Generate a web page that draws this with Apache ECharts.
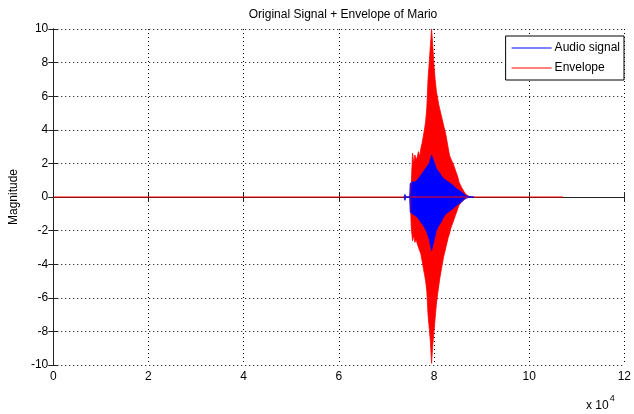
<!DOCTYPE html>
<html>
<head>
<meta charset="utf-8">
<script src="https://cdn.jsdelivr.net/npm/echarts@6/dist/echarts.min.js"></script>
<style>html,body{margin:0;padding:0;background:#fff}#c{width:634px;height:414px}</style>
</head>
<body>
<div id="c"></div>
<script>
// ---- data (sample index on x, magnitude on y) ----
const titleText = 'Original Signal + Envelope of Mario';
const yName = 'Magnitude';
const xTicks = [0, 20000, 40000, 60000, 80000, 100000, 120000];
const yTicks = [-10, -8, -6, -4, -2, 0, 2, 4, 6, 8, 10];
const legendNames = ['Audio signal', 'Envelope'];

// flat part of the traces (start / end sample)
const baseX = [0, 107100];
const baseY = [0, 0];

// envelope burst
const envX = [75000, 75250, 75500, 75750, 76000, 76250, 76500, 76750, 77000, 77250,
              77500, 77750, 78000, 78250, 78500, 78750, 79000, 79250, 79500, 79750,
              80000, 80250, 80500, 80750, 81000, 81250, 81500, 81750, 82000, 82250,
              82500, 82750, 83000, 83250, 83500, 83750, 84000, 84250, 84500, 84750,
              85000, 85250, 85500, 85750, 86000, 86250, 86500, 86750, 87000, 87250, 87500];
const envUpper = [0.1, 0.9, 2.6, 2.0, 2.5, 2.2, 2.4, 2.7, 2.4, 2.9,
                  3.2, 3.6, 4.0, 4.5, 5.3, 7.0, 8.0, 9.0, 10.0, 9.0,
                  7.8, 7.0, 6.3, 5.9, 5.5, 5.2, 4.9, 4.6, 4.3, 4.0,
                  3.7, 3.3, 2.9, 2.5, 2.3, 2.2, 2.0, 1.8, 1.6, 1.4,
                  1.2, 0.9, 0.8, 0.6, 0.5, 0.35, 0.25, 0.15, 0.1, 0.05, 0.0];
const envLower = [-0.1, -1.9, -2.6, -2.3, -2.7, -2.5, -2.8, -3.0, -2.9, -3.4,
                  -3.8, -4.2, -4.6, -5.0, -5.6, -7.0, -7.8, -8.6, -9.9, -8.8,
                  -8.0, -7.2, -6.4, -5.8, -5.3, -4.8, -4.4, -4.0, -3.6, -3.3,
                  -3.0, -2.7, -2.4, -2.2, -1.9, -1.7, -1.5, -1.3, -1.1, -0.9,
                  -0.7, -0.5, -0.4, -0.3, -0.2, -0.15, -0.1, -0.05, -0.03, 0.0, 0.0];

// audio signal burst
const sigX = [73700, 73900, 74100, 74900, 75000, 75500, 76000, 76500, 77000, 77500,
              78000, 78500, 79000, 79500, 80000, 80500, 81000, 81500, 82000, 82500,
              83000, 83500, 84000, 84500, 85000, 85500, 86000, 86500, 87000, 88000, 88200, 88400];
const sigUpper = [0.0, 0.15, 0.0, 0.0, 0.8, 0.9, 0.9, 1.0, 1.2, 1.4,
                  1.6, 1.8, 2.0, 2.5, 2.1, 1.7, 1.5, 1.3, 1.1, 1.0,
                  0.9, 0.8, 0.7, 0.55, 0.45, 0.35, 0.25, 0.12, 0.05, 0.0, 0.08, 0.0];
const sigLower = [0.0, -0.2, 0.0, 0.0, -0.9, -1.0, -1.1, -1.2, -1.4, -1.6,
                  -1.8, -2.1, -2.5, -3.2, -2.6, -2.0, -1.7, -1.5, -1.2, -1.0,
                  -0.9, -0.8, -0.7, -0.55, -0.45, -0.35, -0.25, -0.12, -0.05, 0.0, -0.08, 0.0];

const BLUE = '#0000ff', RED = '#ff0000';
const zip = (xs, ys) => xs.map((x, i) => [x, ys[i]]);

function areaSeries(name, color, xs, ys) {
  return {
    name, type: 'line', data: zip(xs, ys), showSymbol: false, symbol: 'none',
    lineStyle: { color, width: 0.8 }, itemStyle: { color },
    areaStyle: { color, opacity: 1 }, animation: false, silent: true
  };
}
function lineSeries(name, color, xs, ys) {
  return {
    name, type: 'line', data: zip(xs, ys), showSymbol: false, symbol: 'none',
    lineStyle: { color, width: 1 }, itemStyle: { color }, animation: false, silent: true
  };
}

const font = 'Liberation Sans, Arial, sans-serif';
const axisCommon = {
  axisLine: { show: true, lineStyle: { color: '#222', width: 1 } },
  axisTick: { show: true, inside: true, length: 5, lineStyle: { color: '#222' } },
  splitLine: { show: false }
};

const chart = echarts.init(document.getElementById('c'), null, { renderer: 'canvas' });
chart.setOption({
  backgroundColor: '#ffffff',
  animation: false,
  title: {
    text: titleText, left: 338, textAlign: 'center', top: 4,
    textStyle: { fontFamily: font, fontSize: 12, fontWeight: 'normal', color: '#000' }
  },
  legend: {
    data: legendNames.map(n => ({ name: n, icon: 'rect' })),
    orient: 'vertical', right: 10, top: 36,
    backgroundColor: '#fff', borderColor: '#000', borderWidth: 1,
    padding: [6, 4, 6, 6], itemGap: 8, itemWidth: 40, itemHeight: 1,
    textStyle: { fontFamily: font, fontSize: 12, color: '#000', padding: [0, 0, 0, -2] }
  },
  grid: { left: 49, right: 7, top: 29, bottom: 49, show: false },
  xAxis: [
    Object.assign({
      type: 'value', min: xTicks[0], max: xTicks[xTicks.length - 1], interval: xTicks[1] - xTicks[0],
      axisLabel: { color: '#000', fontFamily: font, fontSize: 12, margin: 6, formatter: v => String(v / 10000) },
      splitLine: { show: true, lineStyle: { color: '#000', type: [1, 3], width: 1 } }
    }, { axisLine: axisCommon.axisLine, axisTick: axisCommon.axisTick }),
    Object.assign({
      type: 'value', position: 'top', min: xTicks[0], max: xTicks[xTicks.length - 1], interval: xTicks[1] - xTicks[0],
      axisLabel: { show: false }
    }, axisCommon)
  ],
  yAxis: [
    Object.assign({
      type: 'value', min: yTicks[0], max: yTicks[yTicks.length - 1], interval: yTicks[1] - yTicks[0],
      name: yName, nameLocation: 'middle', nameGap: 28, nameRotate: 90,
      nameTextStyle: { color: '#000', fontFamily: font, fontSize: 12 },
      axisLabel: { color: '#000', fontFamily: font, fontSize: 12, margin: 5 },
      splitLine: { show: true, lineStyle: { color: '#000', type: [1, 3], width: 1 } }
    }, { axisLine: axisCommon.axisLine, axisTick: axisCommon.axisTick }),
    Object.assign({
      type: 'value', position: 'right', min: yTicks[0], max: yTicks[yTicks.length - 1], interval: yTicks[1] - yTicks[0],
      axisLabel: { show: false }
    }, axisCommon)
  ],
  graphic: [{
    type: 'text', left: 586, top: 394,
    style: {
      text: '{a|x 10}{b|4}',
      rich: {
        a: { fontFamily: font, fontSize: 12, fill: '#000', padding: [8, 0, 0, 0] },
        b: { fontFamily: font, fontSize: 9, fill: '#000', padding: [0, 0, 6, 1] }
      }
    }
  }],
  series: [
    areaSeries('Audio signal', BLUE, [sigX[0]], [sigUpper[0]]),
    lineSeries('Envelope', RED, baseX, baseY),
    areaSeries('Envelope', RED, envX, envUpper),
    areaSeries('Envelope', RED, envX, envLower),
    areaSeries('Audio signal', BLUE, sigX, sigUpper),
    areaSeries('Audio signal', BLUE, sigX, sigLower)
  ]
});
</script>
</body>
</html>
